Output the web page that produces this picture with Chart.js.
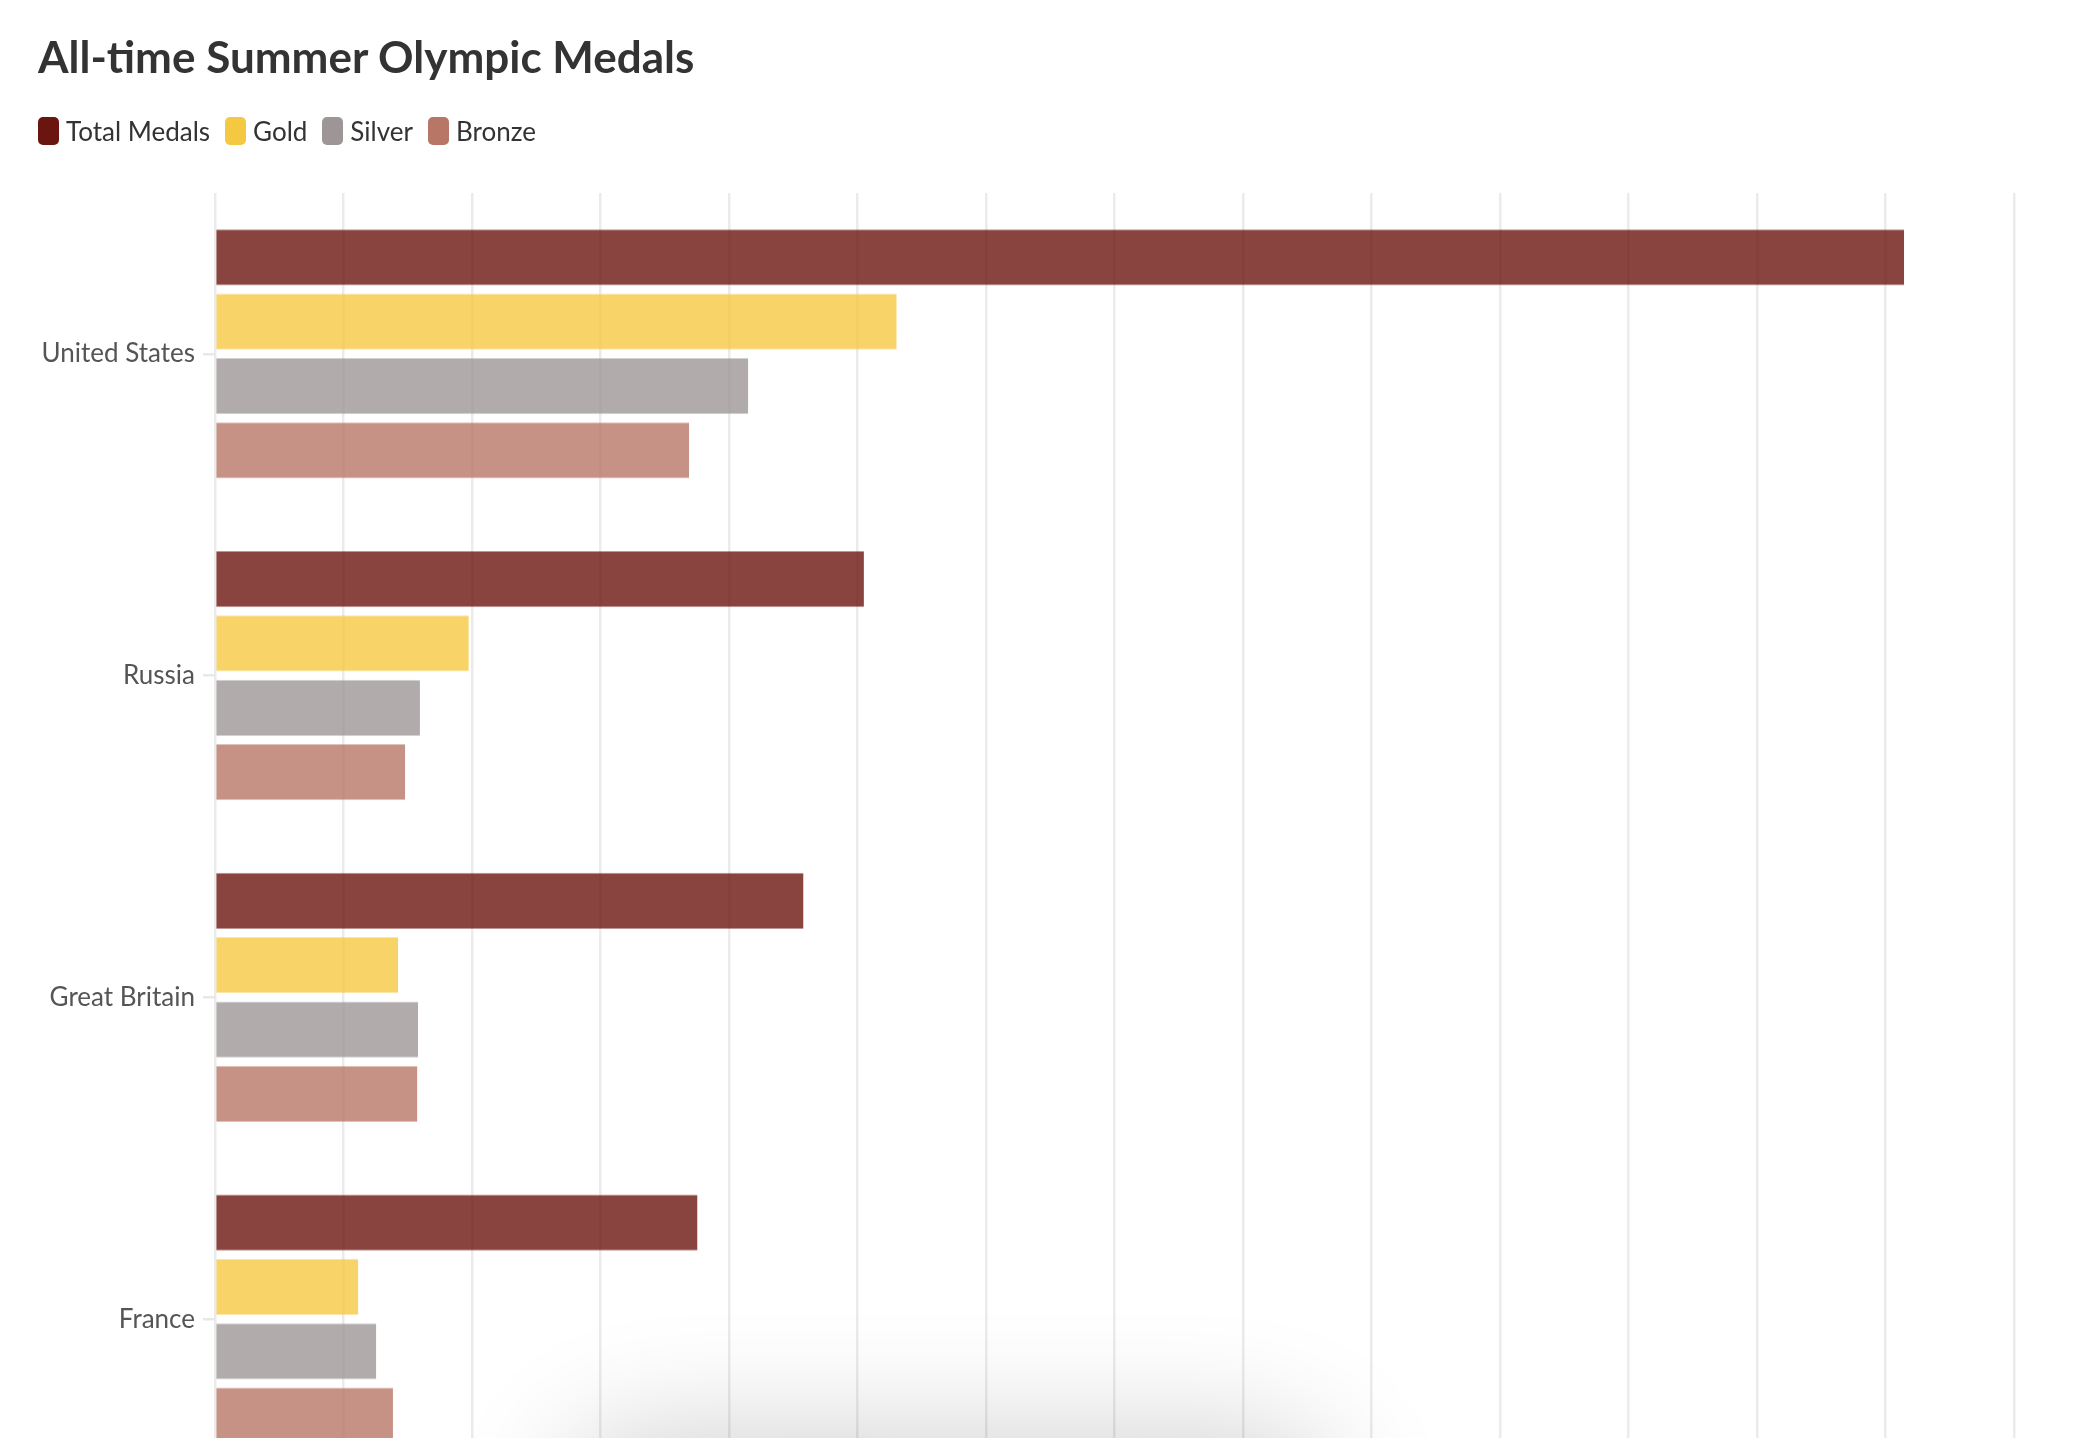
<!DOCTYPE html>
<html>
<head>
<meta charset="utf-8">
<script src="https://cdn.jsdelivr.net/npm/chart.js@4.4.1/dist/chart.umd.min.js"></script>
<style>
html,body{margin:0;padding:0;background:#fff;overflow:hidden;width:2076px;height:1438px;}
#title{position:absolute;left:38px;top:34px;font:700 44px Lato,sans-serif;line-height:44px;color:#333;white-space:nowrap;}
#legend{position:absolute;left:38px;top:117px;height:28px;display:flex;align-items:center;font:400 26px Lato,sans-serif;line-height:28px;color:#333;white-space:nowrap;}
.item{display:flex;align-items:center;margin-right:15px;}
.sw{width:21px;height:28px;border-radius:5px;margin-right:7px;}
#wrap{position:absolute;left:0;top:0;width:2076px;height:1520px;}
#shadow{position:absolute;left:600px;top:1470px;width:700px;height:100px;border-radius:50px;background:#fff;box-shadow:0 0 120px 40px rgba(0,0,0,0.18);}
</style>
</head>
<body>
<div id="wrap"><canvas id="c"></canvas></div>
<div id="title">All-time Summer Olympic Medals</div>
<div id="legend"></div>
<div id="shadow"></div>
<script>
const categories = ['United States', 'Russia', 'Great Britain', 'France'];
const totalMedals = [2629, 1010, 916, 751];
const goldMedals = [1061, 395, 285, 223];
const silverMedals = [830, 319, 316, 251];
const bronzeMedals = [738, 296, 315, 277];
const seriesNames = ['Total Medals', 'Gold', 'Silver', 'Bronze'];
const xMin = 0, xMax = 2800, xStep = 200;

const baseColors = [[107,21,16],[245,200,66],[158,150,150],[184,119,102]];
const rgba = (c,a) => `rgba(${c[0]},${c[1]},${c[2]},${a})`;
const seriesData = [totalMedals, goldMedals, silverMedals, bronzeMedals];

// HTML legend
const legend = document.getElementById('legend');
seriesNames.forEach((n,i) => {
  const it = document.createElement('div'); it.className='item';
  const sw = document.createElement('div'); sw.className='sw'; sw.style.background = rgba(baseColors[i],1);
  const tx = document.createElement('span'); tx.textContent = n;
  it.appendChild(sw); it.appendChild(tx); legend.appendChild(it);
});

new Chart(document.getElementById('c'), {
  type: 'bar',
  data: {
    labels: categories,
    datasets: seriesNames.map((n,i) => ({
      label: n,
      data: seriesData[i],
      backgroundColor: rgba(baseColors[i],0.8),
      borderColor: rgba(baseColors[i],0.45),
      borderWidth: {top:1, bottom:1, left:0, right:0},
      borderSkipped: false,
      barPercentage: 0.875,
      categoryPercentage: 0.8
    }))
  },
  options: {
    indexAxis: 'y',
    responsive: true,
    maintainAspectRatio: false,
    animation: false,
    layout: { padding: { top: 193, right: 62, bottom: 0, left: 0 } },
    plugins: { legend: { display: false }, title: { display: false }, tooltip: { enabled: false } },
    scales: {
      x: {
        min: xMin, max: xMax,
        ticks: { stepSize: xStep, color: '#555', font: { family: 'Lato', size: 22 } },
        grid: { color: '#ebebeb', lineWidth: 2.5, drawTicks: false },
        border: { display: false },
        afterFit: s => { s.height = 40; }
      },
      y: {
        ticks: { color: '#555', font: { family: 'Lato', size: 26 }, padding: 8 },
        grid: { offset: false, drawOnChartArea: false, drawTicks: true, tickLength: 12, color: '#e8e8e8', lineWidth: 2.5 },
        border: { display: false },
        afterFit: s => { s.width = 215; }
      }
    }
  }
});
</script>
</body>
</html>
